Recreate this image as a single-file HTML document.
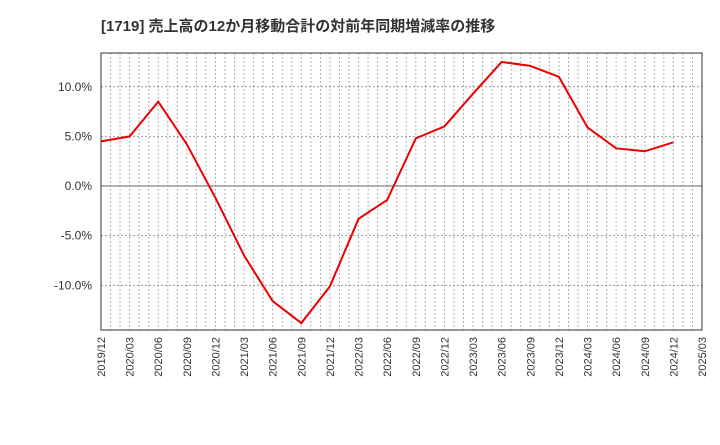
<!DOCTYPE html>
<html><head><meta charset="utf-8"><style>
body{margin:0;background:#fff;width:720px;height:440px;overflow:hidden}
text{font-family:"Liberation Sans","Noto Sans CJK JP",sans-serif}
</style></head><body>
<svg id="c" width="720" height="440">
<text x="101" y="31" font-size="15" font-weight="bold" fill="#333">[1719]  売上高の12か月移動合計の対前年同期増減率の推移</text>
</svg>
<script>
const categories=["2019/12","2020/03","2020/06","2020/09","2020/12","2021/03","2021/06","2021/09","2021/12","2022/03","2022/06","2022/09","2022/12","2023/03","2023/06","2023/09","2023/12","2024/03","2024/06","2024/09","2024/12"];
const values=[4.5,5.0,8.5,4.2,-1.2,-7.0,-11.6,-13.8,-10.1,-3.3,-1.4,4.8,6.0,9.3,12.5,12.1,11.0,5.9,3.8,3.5,4.4];
const xTickLabels=["2019/12","2020/03","2020/06","2020/09","2020/12","2021/03","2021/06","2021/09","2021/12","2022/03","2022/06","2022/09","2022/12","2023/03","2023/06","2023/09","2023/12","2024/03","2024/06","2024/09","2024/12","2025/03"];
const yTicks=[-10,-5,0,5,10];
const yMin=-14.5,yMax=13.4;
const L=101,R=702,T=53,B=330;
const svg=document.getElementById('c');const NS="http://www.w3.org/2000/svg";
const xs=i=>L+(R-L)*i/(xTickLabels.length-1);
const ys=v=>B-(v-yMin)/(yMax-yMin)*(B-T);
function mk(t,a){const e=document.createElementNS(NS,t);for(const k in a)e.setAttribute(k,a[k]);svg.appendChild(e);return e;}
const nMonths=(xTickLabels.length-1)*3;
for(let m=1;m<nMonths;m++){const x=L+(R-L)*m/nMonths;
const g=mk('line',{x1:x,x2:x,y1:T,y2:B,stroke:'#999','stroke-dasharray':'1.5,2.5'});

}
yTicks.forEach(v=>{const y=ys(v);
const g=mk('line',{x1:L,x2:R,y1:y,y2:y,stroke:v===0?'#666':'#999','stroke-dasharray':v===0?'':'2,2'});


const t=mk('text',{x:L-9,y:y+4,'font-size':12,'text-anchor':'end',fill:'#333'});t.textContent=v.toFixed(1)+'%';

});
xTickLabels.forEach((s,i)=>{const x=xs(i);
const t=mk('text',{x:0,y:0,'font-size':11,'text-anchor':'end',fill:'#333',transform:`translate(${x+4},${B+7}) rotate(-90)`});t.textContent=s;

});
const f=mk('rect',{x:L,y:T,width:R-L,height:B-T,fill:'none',stroke:'#333'});


const p=mk('polyline',{points:values.map((v,i)=>xs(i)+','+ys(v)).join(' '),fill:'none',stroke:'#e00','stroke-width':2});


</script>
</body></html>
